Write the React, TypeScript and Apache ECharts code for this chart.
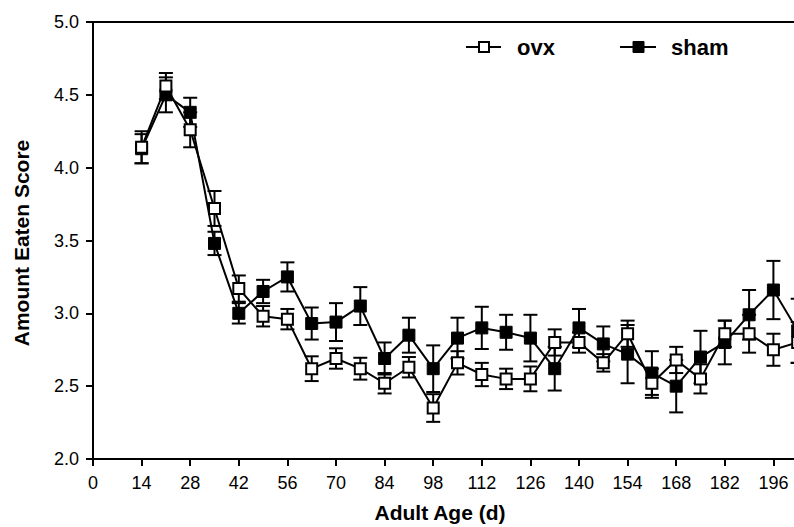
import React, { useEffect, useRef } from "react";
import * as echarts from "echarts";

const days = [14, 21, 28, 35, 42, 49, 56, 63, 70, 77, 84, 91, 98, 105, 112, 119, 126, 133, 140, 147, 154, 161, 168, 175, 182, 189, 196, 203];
const ovxMean = [4.14, 4.56, 4.26, 3.72, 3.17, 2.98, 2.96, 2.62, 2.69, 2.62, 2.52, 2.63, 2.35, 2.66, 2.58, 2.55, 2.55, 2.8, 2.8, 2.66, 2.86, 2.52, 2.68, 2.55, 2.86, 2.86, 2.75, 2.8];
const ovxErr = [0.11, 0.09, 0.12, 0.12, 0.09, 0.07, 0.07, 0.085, 0.07, 0.075, 0.07, 0.07, 0.095, 0.08, 0.08, 0.07, 0.085, 0.09, 0.07, 0.06, 0.09, 0.1, 0.09, 0.1, 0.09, 0.13, 0.11, 0.14];
const shamMean = [4.13, 4.5, 4.38, 3.48, 3.0, 3.15, 3.25, 2.93, 2.94, 3.05, 2.69, 2.85, 2.62, 2.83, 2.9, 2.87, 2.83, 2.62, 2.9, 2.79, 2.72, 2.59, 2.5, 2.7, 2.8, 2.99, 3.16, 2.88];
const shamErr = [0.1, 0.12, 0.1, 0.08, 0.07, 0.08, 0.1, 0.11, 0.13, 0.13, 0.11, 0.12, 0.16, 0.14, 0.145, 0.12, 0.16, 0.15, 0.13, 0.12, 0.2, 0.15, 0.18, 0.18, 0.15, 0.17, 0.2, 0.22];
const seriesNames = ["ovx", "sham"];
const xTitle = "Adult Age (d)";
const yTitle = "Amount Eaten Score";
const lastXTick = 196;

const FONT = "'Liberation Sans', Arial, Helvetica, sans-serif";

function errorSeries(mean: number[], err: number[], z: number) {
  return {
    type: "custom",
    z,
    silent: true,
    data: days.map((d, i) => [d, mean[i], err[i]]),
    renderItem: (params: any, api: any) => {
      const x = api.value(0);
      const m = api.value(1);
      const e = api.value(2);
      const top = api.coord([x, m + e]);
      const bot = api.coord([x, m - e]);
      const hw = 7;
      const style = { stroke: "#000", lineWidth: 2 };
      return {
        type: "group",
        children: [
          { type: "line", shape: { x1: top[0], y1: top[1], x2: bot[0], y2: bot[1] }, style },
          { type: "line", shape: { x1: top[0] - hw, y1: top[1], x2: top[0] + hw, y2: top[1] }, style },
          { type: "line", shape: { x1: bot[0] - hw, y1: bot[1], x2: bot[0] + hw, y2: bot[1] }, style },
        ],
      };
    },
  };
}

export default function App() {
  const ref = useRef<HTMLDivElement>(null);
  useEffect(() => {
    if (!ref.current) return;
    const chart = echarts.init(ref.current, undefined, { renderer: "svg" });
    const legendY = 47;
    chart.setOption({
      animation: false,
      backgroundColor: "#fff",
      grid: {
        left: 93,
        top: 22,
        width: 729,
        height: 437,
        show: true,
        borderColor: "#000",
        borderWidth: 2,
        backgroundColor: "transparent",
      },
      xAxis: {
        type: "value",
        min: 0,
        max: 210,
        interval: 14,
        axisLine: { show: true, onZero: false, lineStyle: { color: "#000", width: 2 } },
        axisTick: { show: true, inside: false, length: 7, lineStyle: { color: "#000", width: 2 } },
        axisLabel: {
          color: "#000",
          fontSize: 18,
          fontFamily: FONT,
          margin: 15,
          formatter: (v: number) => (v > lastXTick ? "" : String(v)),
        },
        splitLine: { show: false },
      },
      yAxis: {
        type: "value",
        min: 2,
        max: 5,
        interval: 0.5,
        axisLine: { show: true, lineStyle: { color: "#000", width: 2 } },
        axisTick: { show: true, inside: false, length: 7, lineStyle: { color: "#000", width: 2 } },
        axisLabel: {
          color: "#000",
          fontSize: 18,
          fontFamily: FONT,
          margin: 14,
          formatter: (v: number) => v.toFixed(1),
        },
        splitLine: { show: false },
      },
      graphic: [
        {
          type: "text",
          x: 440,
          y: 512,
          style: {
            text: xTitle,
            fontSize: 21,
            fontWeight: "bold",
            fontFamily: FONT,
            fill: "#000",
            align: "center",
            verticalAlign: "middle",
          },
        },
        {
          type: "text",
          x: 21,
          y: 243,
          rotation: Math.PI / 2,
          style: {
            text: yTitle,
            fontSize: 21,
            fontWeight: "bold",
            fontFamily: FONT,
            fill: "#000",
            align: "center",
            verticalAlign: "middle",
          },
        },
        { type: "line", shape: { x1: 466, y1: legendY, x2: 501, y2: legendY }, style: { stroke: "#000", lineWidth: 2 } },
        { type: "rect", shape: { x: 479, y: legendY - 5, width: 10, height: 10 }, style: { fill: "#fff", stroke: "#000", lineWidth: 2 } },
        {
          type: "text",
          x: 517,
          y: legendY,
          style: { text: seriesNames[0], fontSize: 22, fontWeight: "bold", fontFamily: FONT, fill: "#000", verticalAlign: "middle" },
        },
        { type: "line", shape: { x1: 620, y1: legendY, x2: 656, y2: legendY }, style: { stroke: "#000", lineWidth: 2 } },
        { type: "rect", shape: { x: 633, y: legendY - 5.5, width: 11, height: 11 }, style: { fill: "#000", stroke: "#000", lineWidth: 1 } },
        {
          type: "text",
          x: 671,
          y: legendY,
          style: { text: seriesNames[1], fontSize: 22, fontWeight: "bold", fontFamily: FONT, fill: "#000", verticalAlign: "middle" },
        },
      ],
      series: [
        errorSeries(shamMean, shamErr, 1),
        errorSeries(ovxMean, ovxErr, 1),
        {
          name: seriesNames[1],
          type: "line",
          z: 3,
          data: days.map((d, i) => [d, shamMean[i]]),
          symbol: "rect",
          symbolSize: 12,
          showAllSymbol: true,
          lineStyle: { color: "#000", width: 2 },
          itemStyle: { color: "#000", borderColor: "#000", borderWidth: 1 },
        },
        {
          name: seriesNames[0],
          type: "line",
          z: 4,
          data: days.map((d, i) => [d, ovxMean[i]]),
          symbol: "rect",
          symbolSize: 11,
          showAllSymbol: true,
          lineStyle: { color: "#000", width: 2 },
          itemStyle: { color: "#fff", borderColor: "#000", borderWidth: 2 },
        },
      ],
    });
    return () => chart.dispose();
  }, []);
  return (
    <div style={{ position: "fixed", left: 0, top: 0, width: 794, height: 527, overflow: "hidden", background: "#fff" }}>
      <div ref={ref} style={{ width: 830, height: 527 }} />
    </div>
  );
}
